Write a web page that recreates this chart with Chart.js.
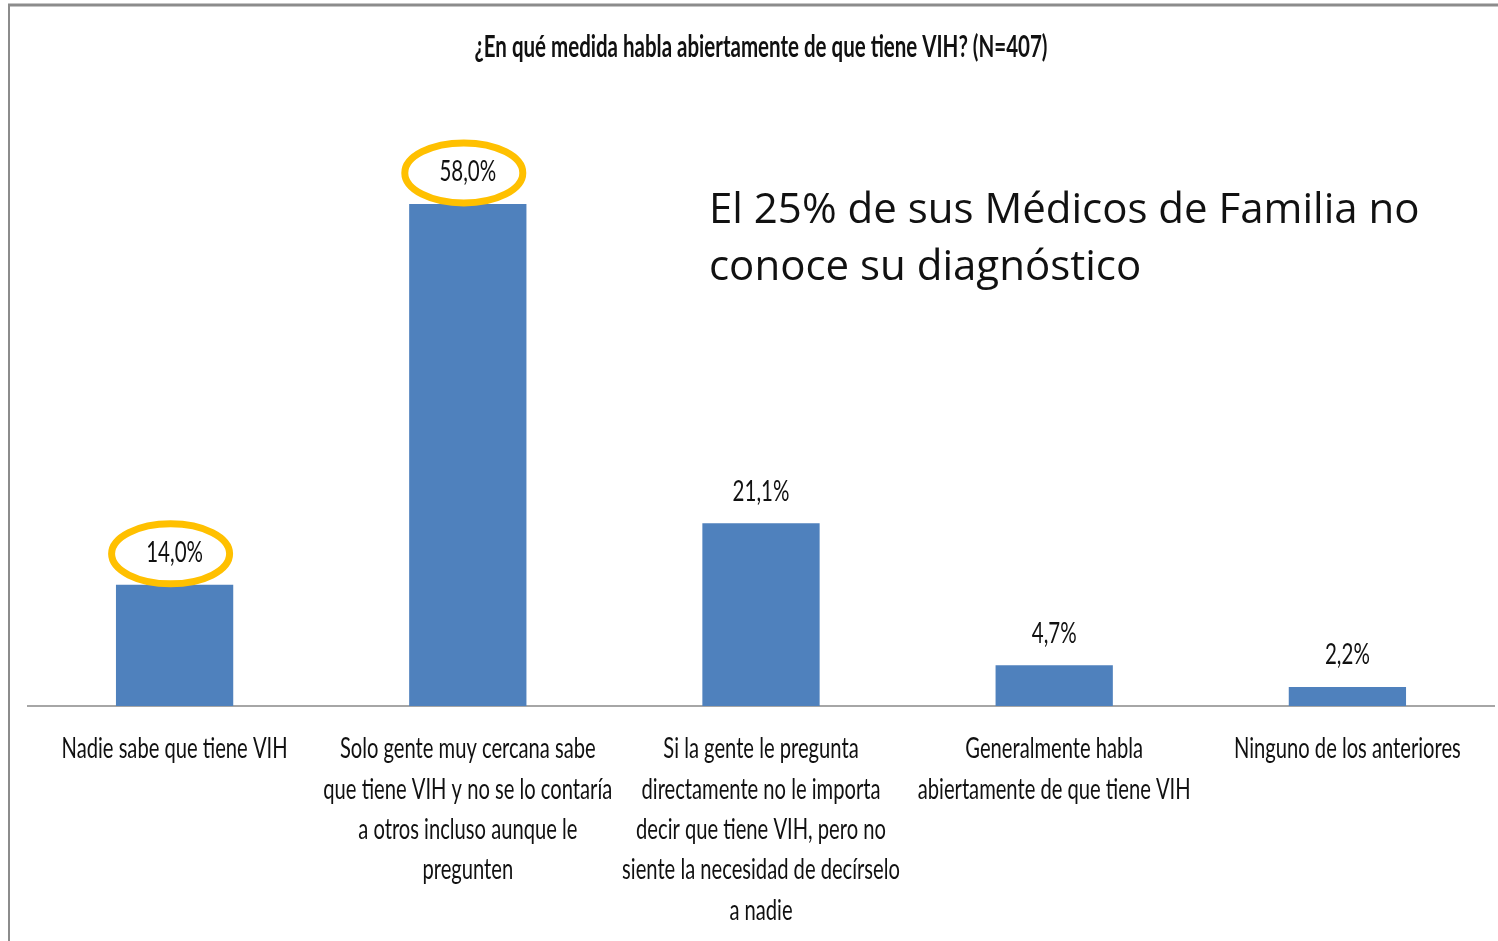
<!DOCTYPE html>
<html>
<head>
<meta charset="utf-8">
<script src="https://cdn.jsdelivr.net/npm/chart.js@4/dist/chart.umd.min.js"></script>
<style>
  html, body { margin: 0; padding: 0; background: #fff; }
  #wrap { width: 1498px; height: 941px; position: relative; }
</style>
</head>
<body>
<div id="wrap"><canvas id="chart" width="1498" height="941"></canvas></div>
<script>
// Data
const categories = [
    ["Nadie sabe que tiene VIH"],
    ["Solo gente muy cercana sabe", "que tiene VIH y no se lo contaría", "a otros incluso aunque le", "pregunten"],
    ["Si la gente le pregunta", "directamente no le importa", "decir que tiene VIH, pero no", "siente la necesidad de decírselo", "a nadie"],
    ["Generalmente habla", "abiertamente de que tiene VIH"],
    ["Ninguno de los anteriores"]
];
const values = [14.0, 58.0, 21.1, 4.7, 2.2];
const highlighted = [0, 1];
const titleText = "¿En qué medida habla abiertamente de que tiene VIH? (N=407)";
const noteLines = ["El 25% de sus Médicos de Familia no", "conoce su diagnóstico"];

// the original uses a squeezed Calibri-like face; fake it with Lato scaled horizontally
const FACE = "Lato, 'Open Sans', sans-serif";
const SQUEEZE = 0.695;

const fmt = v => v.toFixed(1).replace(".", ",") + "%";

function narrowText(ctx, text, x, y) {
    ctx.save();
    ctx.translate(x, y);
    ctx.scale(SQUEEZE, 1);
    ctx.fillText(text, 0, 0);
    ctx.restore();
}

// Frame lines, title, value labels, highlight ellipses, category labels and the note
const extrasPlugin = {
    id: "extras",
    beforeDraw(chart) {
        const ctx = chart.ctx;
        ctx.save();
        ctx.strokeStyle = "#8c8c8c";
        ctx.lineWidth = 3;
        ctx.beginPath();
        ctx.moveTo(8, 5);
        ctx.lineTo(chart.width, 5);
        ctx.stroke();
        ctx.lineWidth = 2;
        ctx.beginPath();
        ctx.moveTo(9, 5);
        ctx.lineTo(9, chart.height);
        ctx.stroke();

        const area = chart.chartArea;
        ctx.fillStyle = "#111";
        ctx.textAlign = "center";
        ctx.textBaseline = "middle";
        ctx.font = "bold 29.5px " + FACE;
        narrowText(ctx, titleText, (area.left + area.right) / 2, 47);
        ctx.restore();
    },
    afterDraw(chart) {
        const ctx = chart.ctx;
        const meta = chart.getDatasetMeta(0);
        const xScale = chart.scales.x;
        ctx.save();
        ctx.fillStyle = "#111";
        ctx.textAlign = "center";
        ctx.textBaseline = "middle";
        ctx.font = "29.5px " + FACE;
        meta.data.forEach((bar, i) => {
            const ly = bar.y - 32;
            narrowText(ctx, fmt(values[i]), bar.x, ly);
            if (highlighted.includes(i)) {
                ctx.beginPath();
                ctx.strokeStyle = "#FFC000";
                ctx.lineWidth = 7;
                ctx.ellipse(bar.x - 4, ly + 1, 59, 30, 0, 0, Math.PI * 2);
                ctx.stroke();
            }
        });

        ctx.font = "29px " + FACE;
        categories.forEach((lines, i) => {
            const cx = xScale.getPixelForValue(i);
            lines.forEach((line, j) => {
                narrowText(ctx, line, cx, xScale.top + 43 + j * 40.3);
            });
        });

        ctx.font = "42px 'Open Sans', sans-serif";
        ctx.textAlign = "left";
        noteLines.forEach((line, i) => {
            ctx.fillText(line, 709, 211 + i * 57);
        });
        ctx.restore();
    }
};

new Chart(document.getElementById("chart"), {
    type: "bar",
    data: {
        labels: categories.map(l => l.join(" ")),
        datasets: [{
            data: values,
            backgroundColor: "#4F81BD",
            categoryPercentage: 1,
            barPercentage: 0.4
        }]
    },
    options: {
        responsive: false,
        animation: false,
        layout: { padding: { left: 28, right: 4, top: 100, bottom: 0 } },
        plugins: {
            legend: { display: false },
            tooltip: { enabled: false },
            title: { display: false }
        },
        scales: {
            x: {
                grid: { display: false, drawTicks: false },
                border: { display: true, color: "#a6a6a6", width: 2 },
                ticks: { display: false },
                afterFit(scale) {
                    scale.height = 235;
                    scale.paddingLeft = 0;
                    scale.paddingRight = 0;
                }
            },
            y: {
                display: false,
                min: 0,
                max: 70
            }
        }
    },
    plugins: [extrasPlugin]
});
</script>
</body>
</html>
